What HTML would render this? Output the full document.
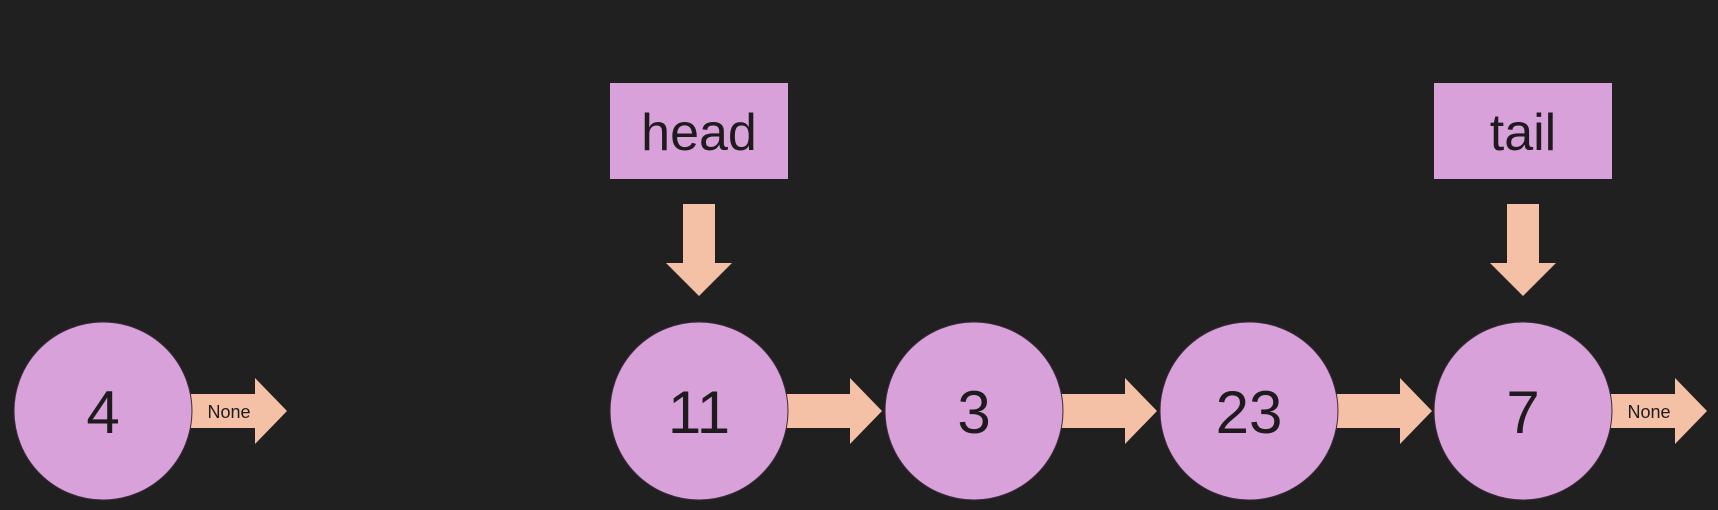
<!DOCTYPE html>
<html><head><style>
html,body{margin:0;padding:0;background:#202020;}
svg{display:block}
text{font-family:"Liberation Sans",sans-serif;fill:#1e1a1e;text-anchor:middle}
</style></head><body>
<svg width="1718" height="510" viewBox="0 0 1718 510" xmlns="http://www.w3.org/2000/svg">
<rect width="1718" height="510" fill="#202020"/>
<defs>
<g id="arr"><polygon points="0,-17 64,-17 64,-33 96,0 64,33 64,17 0,17" fill="#f5c1a6"/></g>
<g id="down"><polygon points="-16,0 16,0 16,59 33,59 0,92 -33,59 -16,59" fill="#f5c1a6"/></g>
</defs>
<g fill="#d9a1d9">
<rect x="610" y="83" width="178" height="96"/>
<rect x="1434" y="83" width="178" height="96"/>
</g>
<text x="699" y="150" font-size="52">head</text>
<text x="1523" y="150" font-size="52">tail</text>
<use href="#down" x="699" y="204"/>
<use href="#down" x="1523" y="204"/>
<use href="#arr" x="191" y="411"/>
<use href="#arr" x="786" y="411"/>
<use href="#arr" x="1061" y="411"/>
<use href="#arr" x="1336" y="411"/>
<use href="#arr" x="1611" y="411"/>
<g fill="#d9a1d9" stroke="#3a2a3a" stroke-width="1">
<circle cx="103" cy="411" r="89"/>
<circle cx="699" cy="411" r="89"/>
<circle cx="974" cy="411" r="89"/>
<circle cx="1249" cy="411" r="89"/>
<circle cx="1523" cy="411" r="89"/>
</g>
<g font-size="60">
<text x="103" y="433">4</text>
<text x="699" y="433">11</text>
<text x="974" y="433">3</text>
<text x="1249" y="433">23</text>
<text x="1523" y="433">7</text>
</g>
<text x="229" y="418" font-size="18">None</text>
<text x="1649" y="418" font-size="18">None</text>
</svg>
</body></html>
